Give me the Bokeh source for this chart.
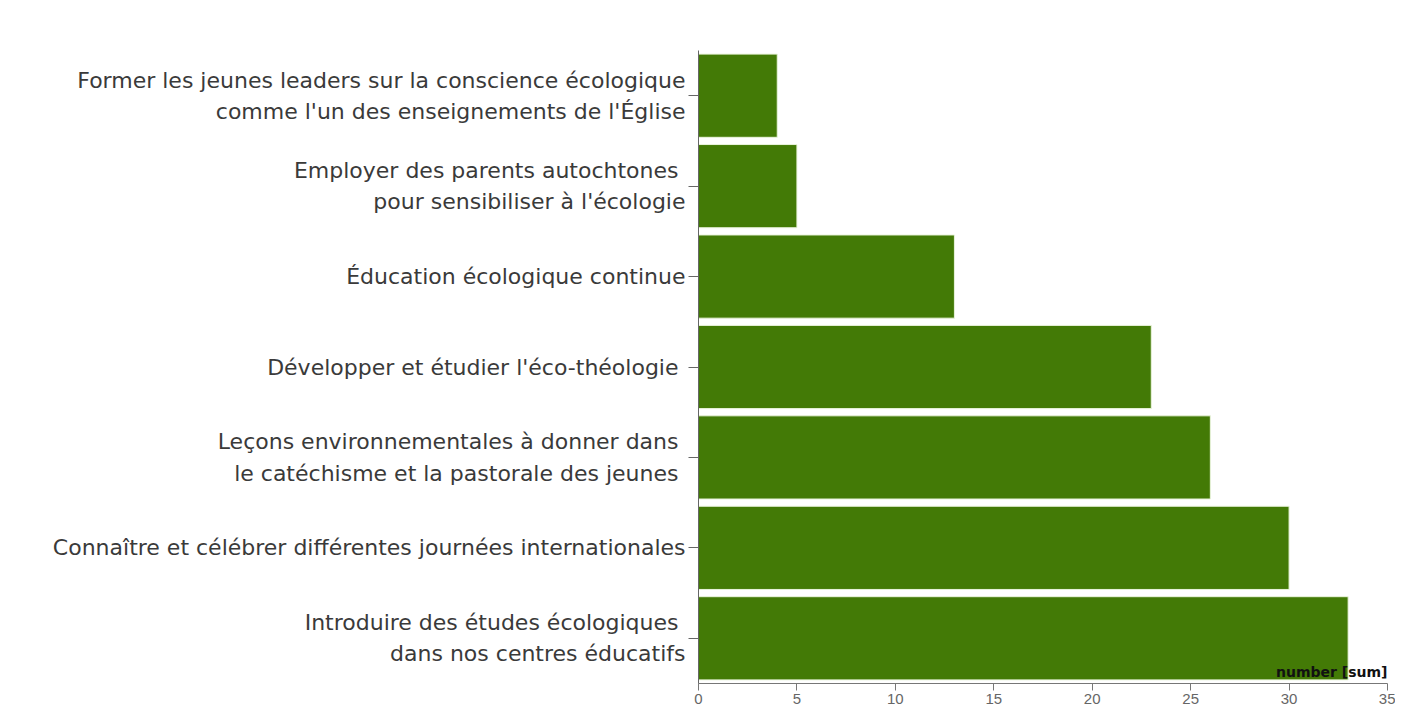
from bokeh.plotting import figure
from bokeh.models import FactorRange, Range1d, SingleIntervalTicker, Label, ColumnDataSource
from bokeh.embed import file_html
from bokeh.resources import INLINE

categories = [
    "Introduire des études écologiques \ndans nos centres éducatifs",
    "Connaître et célébrer différentes journées internationales",
    "Leçons environnementales à donner dans \nle catéchisme et la pastorale des jeunes ",
    "Développer et étudier l'éco-théologie ",
    "Éducation écologique continue",
    "Employer des parents autochtones \npour sensibiliser à l'écologie",
    "Former les jeunes leaders sur la conscience écologique\ncomme l'un des enseignements de l'Église",
]
values = [33, 30, 26, 23, 13, 5, 4]

FONT = "DejaVu Sans"

source = ColumnDataSource(dict(cat=categories, val=values))

p = figure(
    width=1395, height=712,
    y_range=FactorRange(factors=categories, range_padding=0),
    x_range=Range1d(0, 35),
    output_backend="svg", toolbar_location=None,
    min_border_left=698, min_border_right=8, min_border_top=50,
    min_border_bottom=29,
)

p.hbar(y="cat", right="val", left=0, height=0.92, source=source,
       fill_color="#437a06", line_color="#eaf4dc", line_width=1)

p.xgrid.visible = False
p.ygrid.visible = False
p.outline_line_color = None
p.background_fill_color = "white"
p.border_fill_color = "white"

# x axis
p.xaxis.ticker = SingleIntervalTicker(interval=5)
p.xaxis.minor_tick_line_color = None
p.xaxis.major_tick_out = 7
p.xaxis.major_tick_in = 0
p.xaxis.axis_line_color = "#777777"
p.xaxis.major_tick_line_color = "#777777"
p.xaxis.major_label_text_font = "Liberation Sans"
p.xaxis.major_label_text_font_size = "15px"
p.xaxis.major_label_text_color = "#666666"
p.xaxis.major_label_standoff = 3

# y axis
p.yaxis.major_tick_out = 10
p.yaxis.major_tick_in = 0
p.yaxis.axis_line_color = "#666666"
p.yaxis.major_tick_line_color = "#666666"
p.yaxis.major_label_text_font = FONT
p.yaxis.major_label_text_font_size = "22px"
p.yaxis.major_label_text_color = "#3a3a3a"
p.yaxis.major_label_text_line_height = 1.25
p.yaxis.major_label_standoff = 3

p.add_layout(Label(x=35, y=4, y_units="screen", text="number [sum]",
                   text_align="right", text_baseline="bottom",
                   text_font=FONT, text_font_size="14px",
                   text_font_style="bold", text_color="#111111"))

open("out.html", "w").write(file_html(p, INLINE))
